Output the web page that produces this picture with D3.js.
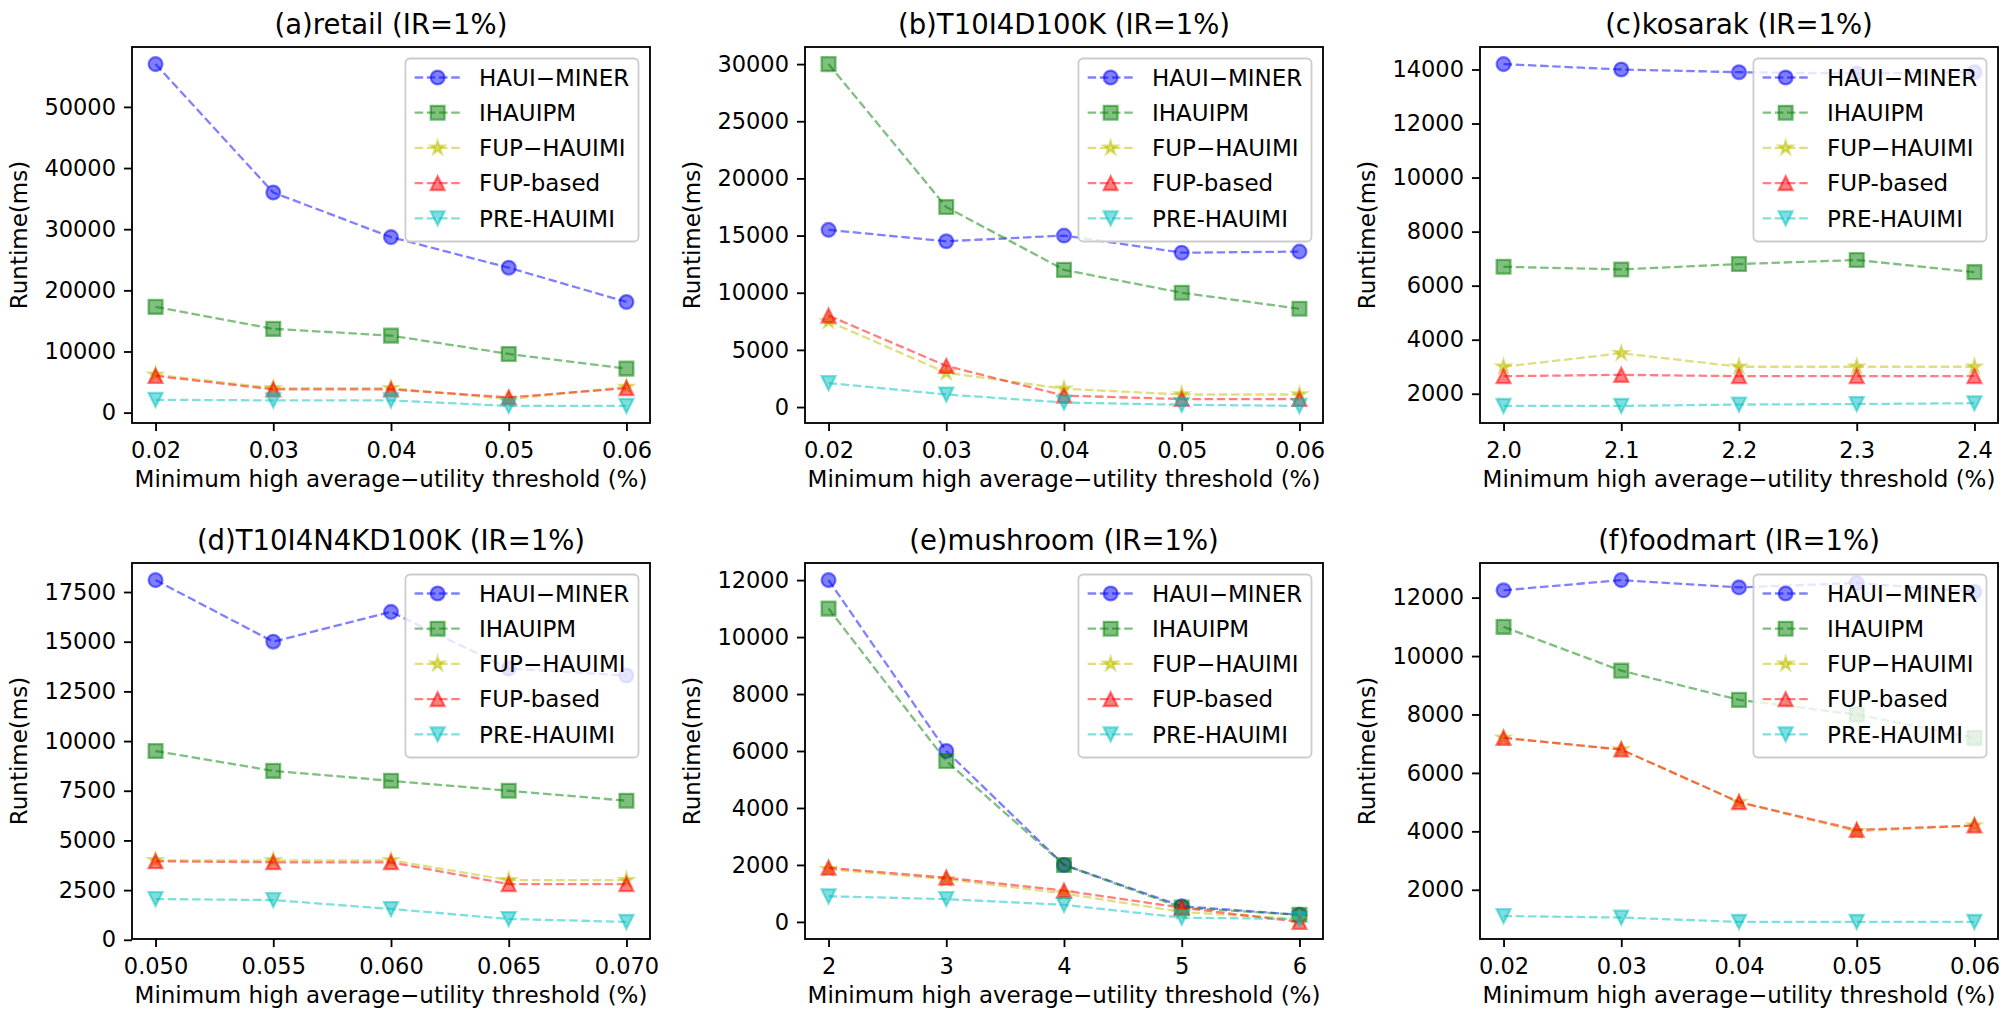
<!DOCTYPE html>
<html><head><meta charset="utf-8">
<script src="https://cdn.jsdelivr.net/npm/d3@7"></script>
<style>
body{margin:0;background:#fff}
svg{display:block}
text{font-family:"DejaVu Sans",sans-serif;fill:#000}
</style>
</head><body><svg id="c" width="2007" height="1020"></svg>
<script>
// ---------- data ----------
const seriesNames = ["HAUI\u2212MINER", "IHAUIPM", "FUP\u2212HAUIMI", "FUP-based", "PRE-HAUIMI"];
const seriesColors = ["#0000ff", "#008000", "#bfbf00", "#ff0000", "#00bfbf"];
const seriesMarkers = ["circle", "square", "star", "triangleUp", "triangleDown"];

const retailX = [0.02, 0.03, 0.04, 0.05, 0.06];
const retailXLabels = ["0.02", "0.03", "0.04", "0.05", "0.06"];
const retailYTicks = [0, 10000, 20000, 30000, 40000, 50000];
const retailHAUI = [57000, 36000, 28700, 23700, 18100];
const retailIHAUIPM = [17300, 13700, 12600, 9600, 7200];
const retailFUPHAUIMI = [6200, 4000, 4000, 2200, 4200];
const retailFUPbased = [6000, 3800, 3800, 2500, 4000];
const retailPRE = [2100, 2000, 2000, 1100, 1100];

const t10X = [0.02, 0.03, 0.04, 0.05, 0.06];
const t10XLabels = ["0.02", "0.03", "0.04", "0.05", "0.06"];
const t10YTicks = [0, 5000, 10000, 15000, 20000, 25000, 30000];
const t10HAUI = [15500, 14500, 15000, 13500, 13600];
const t10IHAUIPM = [30000, 17500, 12000, 10000, 8600];
const t10FUPHAUIMI = [7500, 3000, 1600, 1100, 1100];
const t10FUPbased = [8000, 3600, 1000, 700, 700];
const t10PRE = [2100, 1100, 400, 200, 100];

const kosarakX = [2.0, 2.1, 2.2, 2.3, 2.4];
const kosarakXLabels = ["2.0", "2.1", "2.2", "2.3", "2.4"];
const kosarakYTicks = [2000, 4000, 6000, 8000, 10000, 12000, 14000];
const kosarakHAUI = [14200, 14000, 13900, 13850, 13900];
const kosarakIHAUIPM = [6700, 6600, 6800, 6950, 6500];
const kosarakFUPHAUIMI = [3000, 3500, 3000, 3000, 3000];
const kosarakFUPbased = [2650, 2700, 2650, 2650, 2650];
const kosarakPRE = [1550, 1550, 1600, 1620, 1650];

const t10nX = [0.050, 0.055, 0.060, 0.065, 0.070];
const t10nXLabels = ["0.050", "0.055", "0.060", "0.065", "0.070"];
const t10nYTicks = [0, 2500, 5000, 7500, 10000, 12500, 15000, 17500];
const t10nHAUI = [18100, 15000, 16500, 13650, 13300];
const t10nIHAUIPM = [9500, 8500, 8000, 7500, 7000];
const t10nFUPHAUIMI = [4000, 4000, 4000, 3000, 3000];
const t10nFUPbased = [3950, 3900, 3900, 2800, 2800];
const t10nPRE = [2050, 2000, 1550, 1050, 900];

const mushroomX = [2, 3, 4, 5, 6];
const mushroomXLabels = ["2", "3", "4", "5", "6"];
const mushroomYTicks = [0, 2000, 4000, 6000, 8000, 10000, 12000];
const mushroomHAUI = [12000, 6000, 2000, 550, 250];
const mushroomIHAUIPM = [11000, 5650, 2000, 500, 250];
const mushroomFUPHAUIMI = [1850, 1500, 1000, 350, 100];
const mushroomFUPbased = [1900, 1550, 1100, 500, 0];
const mushroomPRE = [900, 800, 600, 150, 100];

const foodmartX = [0.02, 0.03, 0.04, 0.05, 0.06];
const foodmartXLabels = ["0.02", "0.03", "0.04", "0.05", "0.06"];
const foodmartYTicks = [2000, 4000, 6000, 8000, 10000, 12000];
const foodmartHAUI = [12250, 12600, 12350, 12500, 12200];
const foodmartIHAUIPM = [11000, 9500, 8500, 8000, 7200];
const foodmartFUPHAUIMI = [7200, 6800, 5000, 4000, 4200];
const foodmartFUPbased = [7200, 6800, 5000, 4050, 4200];
const foodmartPRE = [1100, 1050, 900, 900, 900];

const xAxisLabel = "Minimum high average\u2212utility threshold (%)";
const yAxisLabel = "Runtime(ms)";

const panels = [
  {title: "(a)retail (IR=1%)", x: retailX, xl: retailXLabels, yt: retailYTicks,
   s: [retailHAUI, retailIHAUIPM, retailFUPHAUIMI, retailFUPbased, retailPRE]},
  {title: "(b)T10I4D100K (IR=1%)", x: t10X, xl: t10XLabels, yt: t10YTicks,
   s: [t10HAUI, t10IHAUIPM, t10FUPHAUIMI, t10FUPbased, t10PRE]},
  {title: "(c)kosarak (IR=1%)", x: kosarakX, xl: kosarakXLabels, yt: kosarakYTicks,
   s: [kosarakHAUI, kosarakIHAUIPM, kosarakFUPHAUIMI, kosarakFUPbased, kosarakPRE]},
  {title: "(d)T10I4N4KD100K (IR=1%)", x: t10nX, xl: t10nXLabels, yt: t10nYTicks,
   s: [t10nHAUI, t10nIHAUIPM, t10nFUPHAUIMI, t10nFUPbased, t10nPRE]},
  {title: "(e)mushroom (IR=1%)", x: mushroomX, xl: mushroomXLabels, yt: mushroomYTicks,
   s: [mushroomHAUI, mushroomIHAUIPM, mushroomFUPHAUIMI, mushroomFUPbased, mushroomPRE]},
  {title: "(f)foodmart (IR=1%)", x: foodmartX, xl: foodmartXLabels, yt: foodmartYTicks,
   s: [foodmartHAUI, foodmartIHAUIPM, foodmartFUPHAUIMI, foodmartFUPbased, foodmartPRE]}
];

// ---------- layout / style ----------
const colLefts = [132, 805, 1480];
const rowTops = [47, 563];
const W = 518, H = 376;
const PT = 2.3;
const MS = 6 * PT;          // marker size
const LW = 1 * PT;          // line width
const DASH = [3.7 * PT, 1.6 * PT].join(",");
const FS_TICK = 22.5, FS_LABEL = 23, FS_TITLE = 27.5, FS_LEG = 23;

function markerPath(type) {
  const r = MS / 2;
  if (type === "circle") return d3.symbol(d3.symbolCircle, Math.PI * r * r)();
  if (type === "square") return `M${-r},${-r}H${r}V${r}H${-r}Z`;
  if (type === "triangleUp") return `M0,${-r}L${r},${r}L${-r},${r}Z`;
  if (type === "triangleDown") return `M0,${r}L${r},${-r}L${-r},${-r}Z`;
  if (type === "star") {
    const inner = r * 0.381966; let p = "";
    for (let k = 0; k < 10; k++) {
      const rad = k % 2 === 0 ? r : inner;
      const a = -Math.PI / 2 + k * Math.PI / 5;
      p += (k === 0 ? "M" : "L") + (rad * Math.cos(a)).toFixed(3) + "," + (rad * Math.sin(a)).toFixed(3);
    }
    return p + "Z";
  }
}

function drawMarker(g, type, color, cx, cy) {
  g.append("path").attr("d", markerPath(type))
    .attr("transform", `translate(${cx},${cy})`)
    .attr("fill", color).attr("fill-opacity", 0.5)
    .attr("stroke", color).attr("stroke-opacity", 0.5)
    .attr("stroke-width", LW).attr("stroke-linejoin", "miter");
}

const svg = d3.select("#c");

panels.forEach((p, pi) => {
  const left = colLefts[pi % 3], top = rowTops[Math.floor(pi / 3)];
  const g = svg.append("g").attr("transform", `translate(${left},${top})`);

  const xmin = d3.min(p.x), xmax = d3.max(p.x), xr = xmax - xmin;
  const x = d3.scaleLinear().domain([xmin - 0.05 * xr, xmax + 0.05 * xr]).range([0, W]);
  const all = p.s.flat();
  const ymin = d3.min(all), ymax = d3.max(all), yr = ymax - ymin;
  const y = d3.scaleLinear().domain([ymin - 0.05 * yr, ymax + 0.05 * yr]).range([H, 0]);

  // series
  p.s.forEach((vals, si) => {
    const pts = vals.map((v, i) => [x(p.x[i]), y(v)]);
    g.append("path").attr("d", d3.line()(pts))
      .attr("fill", "none").attr("stroke", seriesColors[si])
      .attr("stroke-opacity", 0.5).attr("stroke-width", LW)
      .attr("stroke-dasharray", DASH);
    pts.forEach(pt => drawMarker(g, seriesMarkers[si], seriesColors[si], pt[0], pt[1]));
  });

  // axes
  const xa = g.append("g").attr("transform", `translate(0,${H})`)
    .call(d3.axisBottom(x).tickValues(p.x).tickFormat((d, i) => p.xl[i])
      .tickSize(3.5 * PT).tickPadding(11).tickSizeOuter(0));
  const ya = g.append("g")
    .call(d3.axisLeft(y).tickValues(p.yt).tickFormat(d => String(d))
      .tickSize(3.5 * PT).tickPadding(8).tickSizeOuter(0));
  [xa, ya].forEach(a => {
    a.attr("font-size", FS_TICK).attr("font-family", "DejaVu Sans");
    a.select(".domain").remove();
    a.selectAll("line").attr("stroke", "#000").attr("stroke-width", 0.8 * PT);
    a.selectAll("text").attr("fill", "#000");
  });

  // spines
  g.append("rect").attr("x", 0).attr("y", 0).attr("width", W).attr("height", H)
    .attr("fill", "none").attr("stroke", "#000").attr("stroke-width", 0.8 * PT);

  // labels
  g.append("text").attr("x", W / 2).attr("y", -13).attr("text-anchor", "middle")
    .attr("font-size", FS_TITLE).text(p.title);
  g.append("text").attr("x", W / 2).attr("y", H + 64).attr("text-anchor", "middle")
    .attr("font-size", FS_LABEL).text(xAxisLabel);
  g.append("text").attr("transform", `translate(-113,${H / 2}) rotate(-90)`)
    .attr("text-anchor", "middle").attr("dominant-baseline", "central")
    .attr("font-size", FS_LABEL).text(yAxisLabel);

  // legend
  const pad = 0.4 * FS_LEG, hl = 2 * FS_LEG, htp = 0.8 * FS_LEG;
  const lg = g.append("g");
  const bg = lg.append("rect");
  const rowH = 35.2, firstC = 19;
  let maxW = 0;
  seriesNames.forEach((name, si) => {
    const cy = firstC + si * rowH;
    lg.append("line").attr("x1", pad).attr("x2", pad + hl).attr("y1", cy).attr("y2", cy)
      .attr("stroke", seriesColors[si]).attr("stroke-opacity", 0.5)
      .attr("stroke-width", LW).attr("stroke-dasharray", DASH);
    drawMarker(lg, seriesMarkers[si], seriesColors[si], pad + hl / 2, cy);
    const t = lg.append("text").attr("x", pad + hl + htp).attr("y", cy + 0.36 * FS_LEG)
      .attr("font-size", FS_LEG).text(name);
    maxW = Math.max(maxW, t.node().getComputedTextLength());
  });
  const lw = pad + hl + htp + maxW + pad;
  const lh = 183;
  bg.attr("x", 0).attr("y", 0).attr("width", lw).attr("height", lh)
    .attr("rx", 0.2 * FS_LEG).attr("ry", 0.2 * FS_LEG)
    .attr("fill", "#fff").attr("fill-opacity", 0.8)
    .attr("stroke", "#cccccc").attr("stroke-width", 1.8);
  lg.attr("transform", `translate(${W - 0.5 * FS_LEG - lw},${0.5 * FS_LEG})`);
});
</script>
</body></html>
